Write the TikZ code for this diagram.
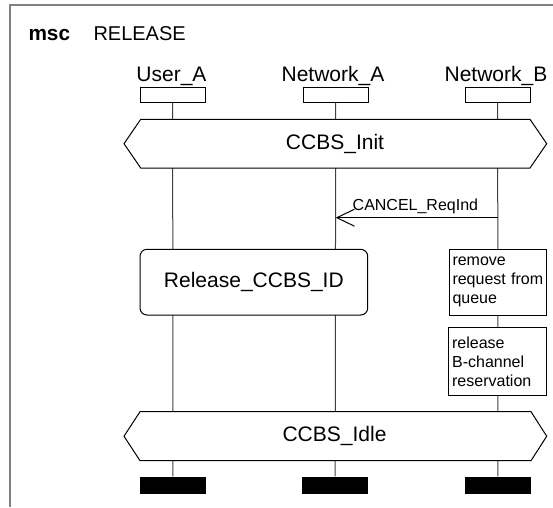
\documentclass[tikz,border=0pt]{standalone}
\usepackage{fontspec}
\setmainfont{Liberation Sans}
\usetikzlibrary{arrows.meta}
\begin{document}
\begin{tikzpicture}[x=1pt,y=-1pt,
  big/.style={font=\fontsize{21}{25}\selectfont},
  small/.style={font=\fontsize{16}{19}\selectfont},
  headbox/.style={draw=black,line width=1pt,fill=white,minimum width=65.3pt,minimum height=15.4pt,inner sep=0pt},
  endbox/.style={fill=black,minimum width=65.7pt,minimum height=17.3pt,inner sep=0pt},
  lifeline/.style={draw=black!75,line width=1pt},
  cond/.style={draw=black,line width=1pt,fill=white,line join=miter},
  actbox/.style={draw=black,line width=1pt,fill=white,inner xsep=3.5pt,inner ysep=0pt,align=left,small,text width=90.7pt,minimum height=65.7pt},
  refbox/.style={draw=black,line width=1pt,fill=white,rounded corners=7pt,minimum width=227.7pt,minimum height=65.7pt,inner sep=0pt,big},
  msg/.style={draw=black,line width=1pt,-{Straight Barb[length=17.6pt,width=17pt,line width=1pt]}}
]
\useasboundingbox (0,0) rectangle (553,507);
% frame
\draw[draw=black!50,line width=2pt] (10,507) -- (10,5) -- (553,5);
\node[anchor=base west,inner sep=0pt,font=\bfseries\fontsize{20.8}{25}\selectfont] (msc) at (28.3,40) {msc};
\node[anchor=base west,inner sep=0pt,font=\fontsize{20}{24}\selectfont] (title) at (93.3,40) {RELEASE};
% instance heads
\node[anchor=base,inner sep=0pt,big] (nUA) at (171.5,81) {User\_A};
\node[anchor=base,inner sep=0pt,big] (nNA) at (333,81) {Network\_A};
\node[anchor=base,inner sep=0pt,big] (nNB) at (496,81) {Network\_B};
\node[headbox] (hUA) at (172.7,95) {};
\node[headbox] (hNA) at (335.7,95) {};
\node[headbox] (hNB) at (497.7,95) {};
% instance ends
\node[endbox] (eUA) at (172.85,485.3) {};
\node[endbox] (eNA) at (335.15,485.3) {};
\node[endbox] (eNB) at (497.85,485.3) {};
% lifelines
\draw[lifeline] (hUA.south) -- (eUA.north);
\draw[lifeline] (hNA.south) -- (eNA.north);
\draw[lifeline] (hNB.south) -- (eNB.north);
% condition CCBS_Init
\draw[cond] (124,143.7) -- (140.7,119.3) -- (530,119.3) -- (546.7,143.7) -- (530,168) -- (140.7,168) -- cycle;
\node[big,inner sep=0pt] (cInit) at (335,143.7) {CCBS\_Init};
% message
\coordinate (mB) at (497.7,217.7);
\coordinate (mA) at (335.7,217.7);
\draw[msg] (mB) -- (mA);
\node[anchor=base west,inner sep=0pt,small] (lbl) at (352.5,210.7) {CANCEL\_ReqInd};
% reference
\node[refbox] (ref) at (253.85,282.15) {Release\_CCBS\_ID};
% actions
\node[actbox] (a1) at (497.85,282.15) {remove\\request from\\queue};
\node[actbox,minimum height=68.4pt] (a2) at (497.5,361.5) {release\\B-channel\\reservation};
% condition CCBS_Idle
\draw[cond] (124,436.2) -- (140,411.7) -- (531,411.7) -- (546.7,436.2) -- (531,460.7) -- (140,460.7) -- cycle;
\node[big,inner sep=0pt] (cIdle) at (334.5,436.2) {CCBS\_Idle};
\end{tikzpicture}
\end{document}
